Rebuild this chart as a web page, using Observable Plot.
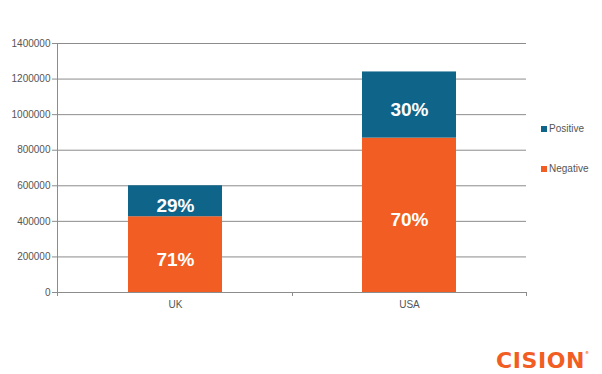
<!DOCTYPE html>
<html>
<head>
<meta charset="utf-8">
<script src="https://cdn.jsdelivr.net/npm/d3@7"></script>
<script src="https://cdn.jsdelivr.net/npm/@observablehq/plot@0.6"></script>
<style>
  html, body { margin: 0; padding: 0; background: #fff; }
  #wrap { position: relative; width: 602px; height: 374px; font-family: "Liberation Sans", Arial, sans-serif; }
  .leg { position: absolute; left: 541px; font-size: 10px; color: #555; line-height: 10px; }
  .leg span.sw { display: inline-block; width: 6px; height: 6px; margin-right: 2px; vertical-align: 0px; }
  #logo { position: absolute; left: 496px; top: 340px; font-family: "DejaVu Sans", sans-serif; font-weight: bold; font-size: 22px; color: #F15D22; letter-spacing: 0.6px; line-height: 26px; }
  #logo sup { font-size: 4px; vertical-align: 14px; letter-spacing: 0; }
</style>
</head>
<body>
<div id="wrap"></div>
<script>
const categories = ["UK", "USA"];
const series = ["Negative", "Positive"];
const negativeValues = [426000, 868000];
const positiveValues = [174000, 372000];
const negativePct = ["71%", "70%"];
const positivePct = ["29%", "30%"];
const yTicks = [0, 200000, 400000, 600000, 800000, 1000000, 1200000, 1400000];
const colors = { Negative: "#F15D22", Positive: "#0E6489" };

const rows = [];
categories.forEach((c, i) => {
  rows.push({ category: c, series: "Negative", value: negativeValues[i], label: negativePct[i] });
  rows.push({ category: c, series: "Positive", value: positiveValues[i], label: positivePct[i] });
});

const gray = "#8c8c8c";

const chart = Plot.plot({
  width: 602,
  height: 374,
  marginLeft: 57,
  marginRight: 76,
  marginTop: 43,
  marginBottom: 82,
  style: { fontFamily: "'Liberation Sans', Arial, sans-serif", fontSize: "10px", color: "#555", background: "transparent" },
  x: { domain: categories, paddingInner: 0.6, paddingOuter: 0.3, label: null },
  y: { domain: [0, 1400000], label: null },
  color: { domain: series, range: series.map(s => colors[s]) },
  marks: [
    Plot.gridY(yTicks, { stroke: gray, strokeOpacity: 1 }),
    Plot.axisY(yTicks, { tickSize: 5, tickPadding: 2, tickFormat: d => String(d), stroke: gray, fill: "#555", label: null }),
    Plot.axisX({ tickSize: 0, tickPadding: 8, fill: "#555", label: null }),
    Plot.barY(rows, { x: "category", y: "value", fill: "series", order: series }),
    Plot.text(rows, Plot.stackY({ x: "category", y: "value", z: "series", order: series, text: "label", fill: "white", fontWeight: "bold", fontSize: 19, dy: 5 })),
    (index, scales, values, dims) => {
      const g = d3.create("svg:g").attr("stroke", gray).attr("fill", "none");
      const x0 = dims.marginLeft, x1 = dims.width - dims.marginRight;
      const y0 = dims.height - dims.marginBottom, yt = dims.marginTop;
      g.append("line").attr("x1", x0 + 0.5).attr("x2", x0 + 0.5).attr("y1", yt).attr("y2", y0);
      const n = categories.length;
      for (let k = 0; k <= n; k++) {
        const xx = Math.round(x0 + (x1 - x0) * k / n) + 0.5;
        g.append("line").attr("x1", xx).attr("x2", xx).attr("y1", y0).attr("y2", y0 + 4);
      }
      return g.node();
    }
  ]
});

const wrap = document.getElementById("wrap");
wrap.appendChild(chart);

[["Positive", 124], ["Negative", 164]].forEach(([s, top]) => {
  const d = document.createElement("div");
  d.className = "leg";
  d.style.top = top + "px";
  d.innerHTML = `<span class="sw" style="background:${colors[s]}"></span>${s}`;
  wrap.appendChild(d);
});

const logo = document.createElement("div");
logo.id = "logo";
logo.innerHTML = "CISION<sup>®</sup>";
wrap.appendChild(logo);
</script>
</body>
</html>
